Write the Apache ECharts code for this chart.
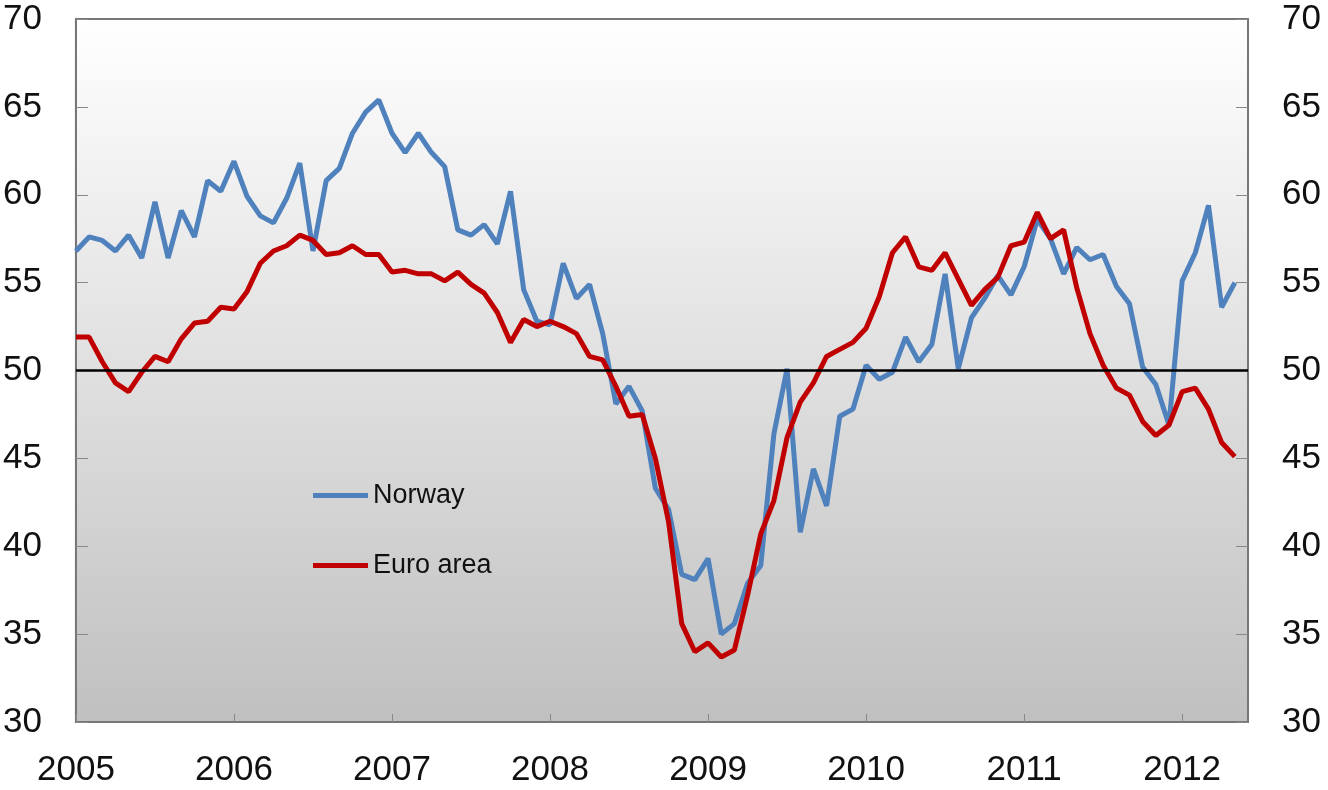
<!DOCTYPE html>
<html>
<head>
<meta charset="utf-8">
<title>PMI Norway / Euro area</title>
<script src="https://cdn.jsdelivr.net/npm/echarts@6/dist/echarts.min.js"></script>
<style>
  html, body { margin: 0; padding: 0; background: #fff; }
  #chart { width: 1328px; height: 790px; }
</style>
</head>
<body>
<div id="chart"></div>
<script>
// monthly values, Jan 2005 - May 2012
var norway = [
  56.8, 57.6, 57.4, 56.8, 57.7, 56.4, 59.6, 56.4, 59.1, 57.6, 60.8, 60.2,
  61.9, 59.9, 58.8, 58.4, 59.8, 61.8, 56.8, 60.8, 61.5, 63.5, 64.7, 65.4,
  63.5, 62.4, 63.5, 62.4, 61.6, 58.0, 57.7, 58.3, 57.2, 60.2, 54.6, 52.8,
  52.6, 56.1, 54.1, 54.9, 52.1, 48.1, 49.1, 47.7, 43.3, 42.1, 38.4, 38.1,
  39.3, 35.0, 35.6, 37.9, 38.9, 46.4, 50.1, 40.8, 44.4, 42.3, 47.4, 47.8,
  50.3, 49.5, 49.9, 51.9, 50.5, 51.5, 55.5, 50.1, 53.0, 54.1, 55.4, 54.3,
  55.9, 58.6, 57.5, 55.5, 57.0, 56.3, 56.6, 54.8, 53.8, 50.2, 49.2, 46.9,
  55.1, 56.7, 59.4, 53.6, 55.0
];
var euroArea = [
  51.9, 51.9, 50.5, 49.3, 48.8, 49.9, 50.8, 50.5, 51.8, 52.7, 52.8, 53.6,
  53.5, 54.5, 56.1, 56.8, 57.1, 57.7, 57.4, 56.6, 56.7, 57.1, 56.6, 56.6,
  55.6, 55.7, 55.5, 55.5, 55.1, 55.6, 54.9, 54.4, 53.3, 51.6, 52.9, 52.5,
  52.8, 52.5, 52.1, 50.8, 50.6, 49.1, 47.4, 47.5, 45.0, 41.4, 35.6, 34.0,
  34.5, 33.7, 34.1, 37.2, 40.7, 42.6, 46.2, 48.2, 49.3, 50.8, 51.2, 51.6,
  52.4, 54.2, 56.7, 57.6, 55.9, 55.7, 56.7, 55.2, 53.7, 54.6, 55.3, 57.1,
  57.3, 59.0, 57.5, 58.0, 54.7, 52.1, 50.3, 49.0, 48.6, 47.1, 46.3, 46.9,
  48.8, 49.0, 47.8, 45.9, 45.1
];
var firstYear = 2005;
var yearLabels = ["2005", "2006", "2007", "2008", "2009", "2010", "2011", "2012"];

var fontFamily = "Liberation Sans";

function toPoints(list) {
  return list.map(function (v, i) {
    return [i, v];
  });
}

var myChart = echarts.init(document.getElementById("chart"));

var yAxisBase = {
  type: "value",
  min: 30,
  max: 70,
  interval: 5,
  splitLine: { show: false },
  axisLine: { show: true, lineStyle: { color: "#777", width: 2 } },
  axisTick: { show: true, inside: true, length: 12, lineStyle: { color: "#888", width: 1 } },
  axisLabel: {
    color: "#111",
    fontFamily: fontFamily,
    fontSize: 35,
    margin: 34,
  },
};

var option = {
  animation: false,
  grid: {
    left: 75,
    right: 80,
    top: 19,
    bottom: 68,
    show: true,
    borderColor: "#777",
    borderWidth: 2,
    // 背景渐变 白 -> 灰
    backgroundColor: {
      type: "linear",
      x: 0, y: 0, x2: 0, y2: 1,
      colorStops: [
        { offset: 0, color: "#ffffff" },
        { offset: 1, color: "#c0c0c0" },
      ],
    },
  },
  legend: {
    orient: "vertical",
    left: 308,
    top: 477,
    itemWidth: 55,
    itemHeight: 5,
    itemGap: 43,
    icon: "rect",
    textStyle: {
      color: "#111",
      fontFamily: fontFamily,
      fontSize: 27,
      lineHeight: 26,
    },
    data: ["Norway", "Euro area"],
  },
  xAxis: {
    type: "value",
    min: 0,
    max: 89,
    interval: 12,
    splitLine: { show: false },
    axisLine: { show: true, lineStyle: { color: "#777", width: 2 } },
    axisTick: { show: true, inside: true, length: 8, lineStyle: { color: "#888", width: 1 } },
    axisLabel: {
      color: "#111",
      fontFamily: fontFamily,
      fontSize: 35,
      margin: 31,
      showMaxLabel: false,
      formatter: function (v) {
        if (v % 12 !== 0) return "";
        return yearLabels[v / 12] || String(firstYear + v / 12);
      },
    },
  },
  yAxis: [
    Object.assign({}, yAxisBase, { position: "left" }),
    Object.assign({}, yAxisBase, { position: "right" }),
  ],
  series: [
    {
      name: "Norway",
      type: "line",
      data: toPoints(norway),
      showSymbol: false,
      symbol: "none",
      itemStyle: { color: "#4f81bd" },
      lineStyle: { color: "#4f81bd", width: 5 },
      markLine: {
        silent: true,
        symbol: "none",
        label: { show: false },
        lineStyle: { color: "#000", width: 2.5, type: "solid" },
        data: [{ yAxis: 50 }],
      },
    },
    {
      name: "Euro area",
      type: "line",
      data: toPoints(euroArea),
      showSymbol: false,
      symbol: "none",
      itemStyle: { color: "#c00000" },
      lineStyle: { color: "#c00000", width: 5 },
    },
  ],
};
myChart.setOption(option);
</script>
</body>
</html>
